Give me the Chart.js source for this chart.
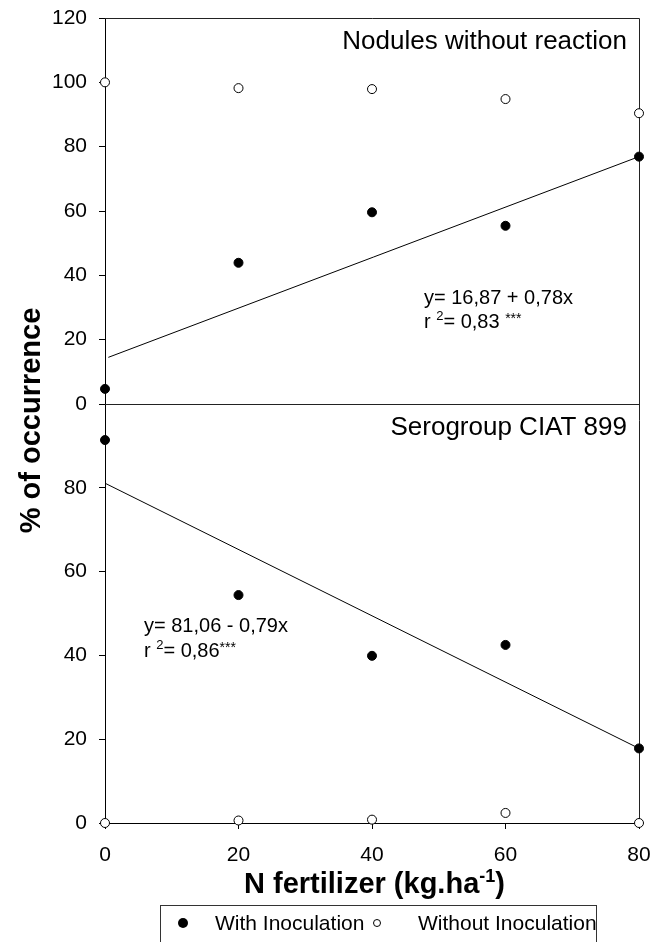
<!DOCTYPE html>
<html lang="en">
<head>
<meta charset="utf-8" />
<title>Nodule occurrence vs N fertilizer</title>
<style>
  * { margin: 0; padding: 0; }
  body { background: #fff; width: 655px; height: 942px; overflow: hidden; }
  canvas { display: block; }
</style>
</head>
<body>
<canvas id="myChart" width="655" height="942"></canvas>
<script src="https://cdn.jsdelivr.net/npm/chart.js/dist/chart.umd.min.js"></script>
<script>
// N fertilizer rates (kg/ha)
const nRates = [0, 20, 40, 60, 80];

// top panel: nodules without reaction (%)
const noReactionWith = [4.7, 43.9, 59.6, 55.4, 76.9];
const noReactionWithout = [100, 98.2, 97.9, 94.8, 90.4];
const noReactionFitX = [0.5, 80];
const noReactionFitY = [14.5, 76.9];

// bottom panel: serogroup CIAT 899 (%)
const ciatWith = [91.4, 54.4, 39.9, 42.5, 17.8];
const ciatWithout = [0, 0.6, 0.8, 2.4, 0];
const ciatFitX = [0, 80];
const ciatFitY = [81.1, 17.8];

const topTicks = [0, 20, 40, 60, 80, 100, 120];
const bottomTicks = [0, 20, 40, 60, 80];

const FONT = "'Liberation Sans', Arial, sans-serif";

const pts = (xs, ys) => xs.map((x, i) => ({ x, y: ys[i] }));

const filled = { backgroundColor: "#000", borderColor: "#000", borderWidth: 1, pointRadius: 4.5, showLine: false, clip: false };
const hollow = { backgroundColor: "#fff", borderColor: "#000", borderWidth: 1, pointRadius: 4.5, showLine: false, clip: false };
const fitLine = { type: "line", borderColor: "#000", borderWidth: 1, pointRadius: 0, showLine: true, fill: false, clip: false };

const data = {
  datasets: [
    { label: "With Inoculation", data: pts(nRates, noReactionWith), yAxisID: "yTop", ...filled },
    { label: "Without Inoculation", data: pts(nRates, noReactionWithout), yAxisID: "yTop", ...hollow },
    { label: "With Inoculation", data: pts(nRates, ciatWith), yAxisID: "yBottom", ...filled },
    { label: "Without Inoculation", data: pts(nRates, ciatWithout), yAxisID: "yBottom", ...hollow },
    { label: "fit top", data: pts(noReactionFitX, noReactionFitY), yAxisID: "yTop", ...fitLine },
    { label: "fit bottom", data: pts(ciatFitX, ciatFitY), yAxisID: "yBottom", ...fitLine },
  ],
};

function yScale(max, shown, weight) {
  return {
    type: "linear",
    position: "left",
    stack: "panels",
    stackWeight: weight,
    min: 0,
    max: max,
    afterFit(scale) {
      scale.width = 105;
      scale.paddingTop = 0;
      scale.paddingBottom = 0;
    },
    afterBuildTicks(scale) { scale.ticks = scale.ticks.filter(t => t.value <= max); },
    ticks: {
      stepSize: 20,
      autoSkip: false,
      color: "#000",
      padding: 12,
      font: { family: FONT, size: 21 },
      callback: v => (shown.includes(v) ? String(v) : ""),
    },
    grid: { drawOnChartArea: false, drawTicks: true, tickLength: 6, color: "#000" },
    border: { display: true, color: "#000", width: 1 },
  };
}

// draws a row of text pieces, some raised and smaller
function drawPieces(ctx, x, y, pieces) {
  let cx = x;
  pieces.forEach(p => {
    ctx.font = p.font;
    ctx.fillText(p.text, cx, y - (p.rise || 0));
    cx += ctx.measureText(p.text).width;
  });
}

const decorations = {
  id: "decorations",
  beforeDatasetsDraw(chart) {
    const { ctx, chartArea: a, scales } = chart;
    const sep = Math.round(scales.yTop.getPixelForValue(0)) + 0.5;
    ctx.save();
    ctx.strokeStyle = "#222";
    ctx.lineWidth = 1;
    ctx.beginPath();
    ctx.moveTo(a.left, Math.round(a.top) + 0.5);
    ctx.lineTo(Math.round(a.right) + 0.5, Math.round(a.top) + 0.5);
    ctx.lineTo(Math.round(a.right) + 0.5, a.bottom);
    ctx.moveTo(a.left, sep);
    ctx.lineTo(a.right, sep);
    ctx.stroke();
    ctx.restore();
  },
  afterDraw(chart) {
    const { ctx, chartArea: a } = chart;
    ctx.save();
    ctx.fillStyle = "#000";
    ctx.textBaseline = "alphabetic";

    // panel labels
    ctx.font = "26px " + FONT;
    ctx.textAlign = "right";
    ctx.fillText("Nodules without reaction", a.right - 12, 49);
    ctx.fillText("Serogroup CIAT 899", a.right - 12, 435);

    // regression equations
    ctx.textAlign = "left";
    const eq = "20px " + FONT, sup = "13px " + FONT, star = "14px " + FONT;
    drawPieces(ctx, 424, 304, [{ text: "y= 16,87 + 0,78x", font: eq }]);
    drawPieces(ctx, 424, 328, [
      { text: "r ", font: eq }, { text: "2", font: sup, rise: 8 },
      { text: "= 0,83 ", font: eq }, { text: "***", font: star, rise: 5 },
    ]);
    drawPieces(ctx, 144, 632, [{ text: "y= 81,06 - 0,79x", font: eq }]);
    drawPieces(ctx, 144, 657, [
      { text: "r ", font: eq }, { text: "2", font: sup, rise: 8 },
      { text: "= 0,86", font: eq }, { text: "***", font: star, rise: 5 },
    ]);

    // y axis title
    ctx.save();
    ctx.translate(32, (a.top + a.bottom) / 2);
    ctx.rotate(-Math.PI / 2);
    ctx.textAlign = "center";
    ctx.textBaseline = "middle";
    ctx.font = "bold 29px " + FONT;
    ctx.fillText("% of occurrence", 0, 0);
    ctx.restore();

    // x axis title
    drawPieces(ctx, 244, 893, [
      { text: "N fertilizer (kg.ha", font: "bold 29px " + FONT },
      { text: "-1", font: "bold 18px " + FONT, rise: 11 },
      { text: ")", font: "bold 29px " + FONT },
    ]);

    // legend
    const ds = chart.data.datasets;
    ctx.strokeStyle = "#333";
    ctx.lineWidth = 1;
    ctx.strokeRect(160.5, 905.5, 436, 60);
    ctx.font = "21px " + FONT;
    ctx.textBaseline = "middle";
    ctx.beginPath();
    ctx.arc(183, 923, 5, 0, Math.PI * 2);
    ctx.fillStyle = ds[0].backgroundColor;
    ctx.fill();
    ctx.fillStyle = "#000";
    ctx.fillText(ds[0].label, 215, 924);
    ctx.beginPath();
    ctx.arc(377, 923, 3.5, 0, Math.PI * 2);
    ctx.fillStyle = ds[1].backgroundColor;
    ctx.fill();
    ctx.strokeStyle = ds[1].borderColor;
    ctx.stroke();
    ctx.fillStyle = "#000";
    ctx.fillText(ds[1].label, 418, 924);
    ctx.restore();
  },
};

const config = {
  type: "scatter",
  data,
  options: {
    responsive: false,
    animation: false,
    devicePixelRatio: 1,
    layout: { autoPadding: false, padding: { top: 18, right: 16, left: 0, bottom: 0 } },
    plugins: { legend: { display: false }, tooltip: { enabled: false } },
    scales: {
      x: {
        type: "linear",
        min: 0,
        max: 80,
        afterFit(scale) {
          scale.height = 119;
          scale.paddingLeft = 0;
          scale.paddingRight = 0;
        },
        ticks: { stepSize: 20, color: "#000", padding: 14, font: { family: FONT, size: 21 } },
        grid: { drawOnChartArea: false, drawTicks: true, tickLength: 6, color: "#000" },
        border: { display: true, color: "#000", width: 1 },
      },
      yBottom: yScale(100, bottomTicks, 419),
      yTop: yScale(120, topTicks, 386),
    },
  },
  plugins: [decorations],
};

const myChart = new Chart(document.getElementById("myChart"), config);
</script>
</body>
</html>
